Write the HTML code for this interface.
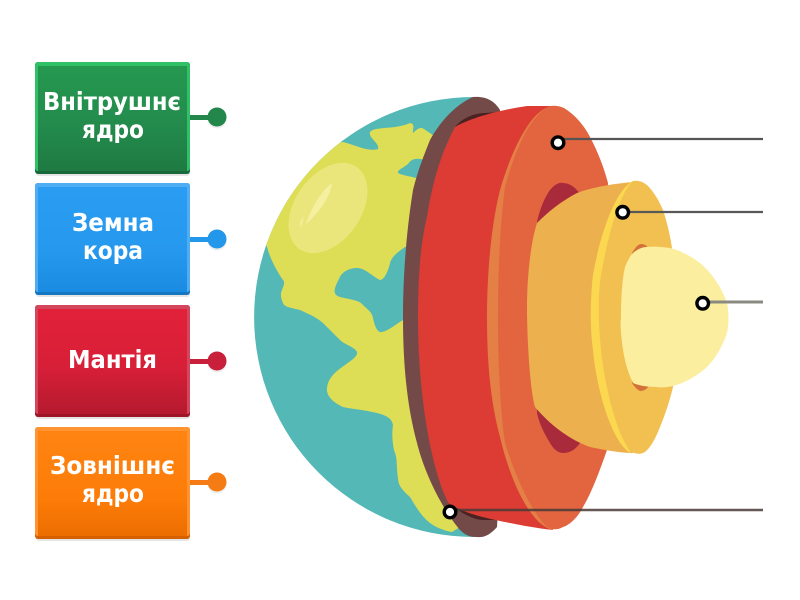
<!DOCTYPE html>
<html><head><meta charset="utf-8"><style>html,body{margin:0;padding:0;background:#fff}svg{display:block}
text{font-family:"DejaVu Sans","Liberation Sans",sans-serif;font-weight:700;font-size:25px;fill:#fff;text-anchor:middle}</style></head>
<body>
<svg width="800" height="600" viewBox="0 0 800 600" xmlns="http://www.w3.org/2000/svg">
<defs>
<linearGradient id="g" x1="0" y1="0" x2="0" y2="1"><stop offset="0" stop-color="#25984f"/><stop offset=".55" stop-color="#238c4d"/><stop offset="1" stop-color="#1e7a42"/></linearGradient>
<linearGradient id="b" x1="0" y1="0" x2="0" y2="1"><stop offset="0" stop-color="#2a9df2"/><stop offset=".6" stop-color="#2699ee"/><stop offset="1" stop-color="#1a8be0"/></linearGradient>
<linearGradient id="r" x1="0" y1="0" x2="0" y2="1"><stop offset="0" stop-color="#e12139"/><stop offset=".55" stop-color="#d81f38"/><stop offset="1" stop-color="#b51a2e"/></linearGradient>
<linearGradient id="o" x1="0" y1="0" x2="0" y2="1"><stop offset="0" stop-color="#ff8412"/><stop offset=".65" stop-color="#fd7c08"/><stop offset="1" stop-color="#ec6e00"/></linearGradient>
<clipPath id="globe"><path d="M474 97 A220 220 0 0 0 474 537 Z"/></clipPath>
</defs>

<!-- buttons -->
<g>
<rect x="36" y="64" width="154" height="112" rx="3" fill="#000" opacity=".1"/>
<rect x="35" y="62" width="155" height="112" rx="3" fill="#17693a"/>
<rect x="35" y="62" width="155" height="109" rx="3" fill="#30c066"/>
<rect x="38" y="66" width="149" height="105" fill="url(#g)"/>
<rect x="36" y="185" width="154" height="112" rx="3" fill="#000" opacity=".1"/>
<rect x="35" y="183" width="155" height="112" rx="3" fill="#1577c0"/>
<rect x="35" y="183" width="155" height="109" rx="3" fill="#4fadf3"/>
<rect x="38" y="187" width="149" height="105" fill="url(#b)"/>
<rect x="36" y="307" width="154" height="112" rx="3" fill="#000" opacity=".1"/>
<rect x="35" y="305" width="155" height="112" rx="3" fill="#9c1627"/>
<rect x="35" y="305" width="155" height="109" rx="3" fill="#d4465c"/>
<rect x="38" y="309" width="149" height="105" fill="url(#r)"/>
<rect x="36" y="429" width="154" height="112" rx="3" fill="#000" opacity=".1"/>
<rect x="35" y="427" width="155" height="112" rx="3" fill="#d46000"/>
<rect x="35" y="427" width="155" height="109" rx="3" fill="#ff9431"/>
<rect x="38" y="431" width="149" height="105" fill="url(#o)"/>
</g>
<!-- connectors -->
<g fill="#000" opacity=".07">
<circle cx="217" cy="119" r="9.5"/><circle cx="217" cy="241" r="9.5"/><circle cx="217" cy="363" r="9.5"/><circle cx="217" cy="484" r="9.5"/>
</g>
<rect x="190" y="115" width="22" height="5" fill="#23864a"/><circle cx="217" cy="117" r="9.5" fill="#23864a"/>
<rect x="190" y="237" width="22" height="5" fill="#2397e9"/><circle cx="217" cy="239" r="9.5" fill="#2397e9"/>
<rect x="190" y="359" width="22" height="5" fill="#c8203a"/><circle cx="217" cy="361" r="9.5" fill="#c8203a"/>
<rect x="190" y="480" width="22" height="5" fill="#f57c14"/><circle cx="217" cy="482" r="9.5" fill="#f57c14"/>

<!-- labels -->
<text x="112" y="110" textLength="138" lengthAdjust="spacingAndGlyphs">Внітрушнє</text>
<text x="113" y="138" textLength="62" lengthAdjust="spacingAndGlyphs">ядро</text>
<text x="113" y="231" textLength="82" lengthAdjust="spacingAndGlyphs">Земна</text>
<text x="113" y="259" textLength="60" lengthAdjust="spacingAndGlyphs">кора</text>
<text x="112.500" y="368" textLength="89" lengthAdjust="spacingAndGlyphs">Мантія</text>
<text x="112.500" y="474" textLength="125" lengthAdjust="spacingAndGlyphs">Зовнішнє</text>
<text x="113" y="502" textLength="62" lengthAdjust="spacingAndGlyphs">ядро</text>

<!-- globe -->
<g clip-path="url(#globe)">
<rect x="250" y="90" width="230" height="450" fill="#53b8b6"/>
<path fill="#dede56" d="M343 142 C355 145 368 152 378 149 C380 143 368 138 370 132 C375 126 395 130 410 123 C416 124 412 130 413 133 C416 130 420 126 424 129 L440 140 L425 160 C418 158 412 158 408 164 C403 168 397 170 398 173 C404 176 410 176 416 178 L425 195 L412 247 L405 247 C398 252 392 256 390 263 C388 272 384 280 380 280 C372 276 365 268 357 268 C348 268 341 273 339 279 C333 290 333 295 340 297 C352 300 358 300 362 304 C368 310 372 312 373 318 C375 328 378 333 382 332 C390 330 396 324 403 320 L415 320 L415 377 L460 527 L452 532 C440 530 433 525 430 523 C420 515 415 505 410 497 C402 490 398 485 398 478 C396 465 398 460 394 450 C392 440 392 432 393 425 C392 418 385 415 377 413 C365 410 352 409 343 407 C332 402 326 395 327 388 C328 378 335 372 345 365 C352 360 358 356 357 352 C355 347 345 345 340 340 C335 335 328 328 323 323 C315 316 308 314 300 310 C292 308 284 307 283 303 C281 298 280 295 282 290 C284 285 285 282 283 280 C276 270 270 258 267 247 L250 200 L300 150 Z"/>
</g>
<ellipse cx="328" cy="208" rx="50" ry="33" transform="rotate(-55 328 208)" fill="#ebe67c"/>
<path d="M306 224 C311 208 322 190 332 183 C331 195 320 212 306 224 Z" fill="#f5f0a0"/>
<path d="M300 222 L304 216 L301 228 Z" fill="#f5f0a0"/>

<!-- crust -->
<path fill="#734a47" d="M473 97 C485 96 494 100 500 110 L510 300 L497 527 C490 535 484 538 476 537 C470 537 465 535 460 530 C443 510 425 475 417 443 C408 410 403 370 403 317 C403 285 405 240 413 190 C418 170 424 155 430 140 C440 122 455 105 473 97 Z"/>
<path fill="#4a2222" d="M455 127 C462 118 475 113 485 113 L500 112 L470 130 Z"/>
<path fill="#4a2222" d="M455 508 C465 515 475 520 483 520 L495 520 L470 510 Z"/>
<!-- red -->
<path fill="#dc3c34" d="M455 127 C470 118 500 110 527 106 L553 106 L553 530 C535 528 520 525 510 523 C495 520 470 515 457 508 C450 505 447 502 447 500 C430 465 418 390 418 320 C418 280 420 245 427 217 C432 185 440 155 455 127 Z"/>
<!-- mantle disc -->
<path fill="#e47f45" d="M553 106 C530 108 510 155 500 190 C490 230 487 280 487 317 C487 360 490 400 500 437 C510 480 530 525 553 530 L570 320 Z"/>
<path fill="#e26540" d="M550 106 C558 105 563 107 567 110 C577 117 585 127 590 137 C598 152 604 168 608 183 L607 450 C600 470 592 492 583 507 C578 517 570 525 563 527 C558 530 552 530 547 527 C530 510 515 475 505 443 C500 410 498 360 498 317 C498 270 500 225 505 187 C515 150 530 115 550 106 Z"/>
<!-- dark hole -->
<path fill="#a92a3a" d="M537 222 C540 208 545 197 550 190 C555 184 560 182 563 183 C570 183 576 188 580 194 L580 443 C575 450 570 453 563 453 C557 453 553 448 550 443 C544 433 539 423 537 413 Z"/>

<!-- outer core -->
<path fill="#ecb04e" d="M537 223 C548 212 560 202 577 193 C590 188 610 184 633 182 L640 317 L633 453 C620 453 605 450 590 447 C570 440 550 425 535 407 C530 390 527 340 527 307 C527 280 530 245 537 223 Z"/>
<path fill="#fbd84f" d="M633 181 C615 190 600 235 593 275 C590 300 590 330 593 350 C596 385 610 440 630 453 L650 317 Z"/>
<path fill="#f2c050" d="M633 181 C640 180 645 183 649 187 C656 195 660 203 663 210 C667 222 670 235 672 248 L674 317 L673 387 C670 400 665 415 660 427 C655 440 650 448 645 452 C640 455 635 454 630 451 C618 435 606 395 601 350 C598 320 598 295 601 275 C608 235 620 192 633 181 Z"/>
<!-- inner hole -->
<path fill="#d4713a" d="M632 253 C635 248 638 244 641 244 C645 244 647 246 649 249 L649 386 C646 390 643 391 640 391 C636 389 634 386 632 383 Z"/>
<!-- inner core -->
<path fill="#fbee9f" d="M625 267 C627 262 630 256 633 253 C638 249 642 247 647 247 C655 246 663 247 670 248 C680 250 692 257 700 263 C712 273 722 288 727 303 C729 313 729 323 727 333 C723 345 716 358 707 367 C697 376 685 383 673 386 C668 387 662 388 657 387 C648 387 640 386 633 383 C628 373 625 362 623 350 C621 335 620 325 621 317 C621 300 622 280 625 267 Z"/>

<!-- lines -->
<path d="M558 139 H763" stroke="#555" stroke-width="2.200" fill="none"/>
<path d="M623 212 H763" stroke="#585858" stroke-width="2.200" fill="none"/>
<path d="M703 302 H763" stroke="#8a8a80" stroke-width="3" fill="none"/>
<path d="M450 510 H763" stroke="#4a3a38" stroke-width="2.400" fill="none" opacity=".85"/>
<g fill="#fff" stroke="#000" stroke-width="3.400">
<circle cx="558" cy="142.700" r="5.800"/>
<circle cx="622.700" cy="212.300" r="5.800"/>
<circle cx="702.700" cy="303.300" r="5.800"/>
<circle cx="450" cy="512" r="5.800"/>
</g>
</svg>
</body></html>
